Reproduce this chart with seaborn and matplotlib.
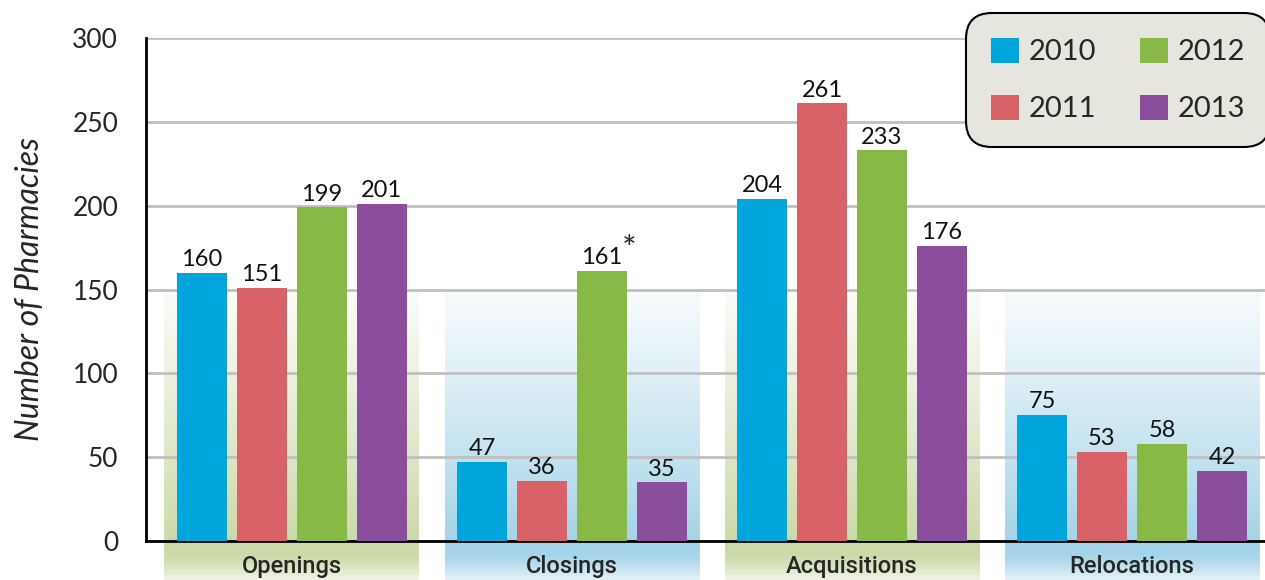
import numpy as np
import pandas as pd
import matplotlib
matplotlib.use("Agg")
import matplotlib.pyplot as plt
import matplotlib.colors as mcolors
import seaborn as sns

sns.set_style("white")
plt.rcParams["font.family"] = ["Lato", "DejaVu Sans"]

# data
categories = ["Openings", "Closings", "Acquisitions", "Relocations"]
years = ["2010", "2011", "2012", "2013"]
v2010 = [160, 47, 204, 75]
v2011 = [151, 36, 261, 53]
v2012 = [199, 161, 233, 58]
v2013 = [201, 35, 176, 42]
year_colors = ["#00a5dc", "#d96168", "#88b846", "#8b4e9c"]
panel_colors = ["#cbdaa9", "#a5d4e8", "#cbdaa9", "#a5d4e8"]

rows = []
for year, vals in zip(years, [v2010, v2011, v2012, v2013]):
    for cat, v in zip(categories, vals):
        rows.append({"category": cat, "year": year, "count": v})
df = pd.DataFrame(rows)

fig = plt.figure(figsize=(12.65, 5.8), dpi=100)
ax = fig.add_axes([146 / 1265, 39 / 580, 1 - 146 / 1265, 503 / 580])


def panel(ax, xc, color):
    # vertical gradient behind each group, running down into the label strip
    top, bottom = 150, -24
    ys = np.linspace(top, bottom, 300)
    c = np.array(mcolors.to_rgb(color))
    white = np.ones(3)
    img = np.zeros((len(ys), 1, 3))
    for i, y in enumerate(ys):
        if y >= 0:
            t = 0.08 + 0.92 * ((150 - y) / 150) ** 1.1
            img[i, 0] = white * (1 - t) + c * t
        else:
            t = (-y) / 24
            t = max(0, (t - 0.35) / 0.65) ** 1.2
            img[i, 0] = c * (1 - t * 0.75) + white * t * 0.75
    ax.imshow(img, extent=(xc - 0.455, xc + 0.455, bottom, top),
              aspect="auto", zorder=0, clip_on=False, interpolation="bilinear")


for i, pc in enumerate(panel_colors):
    panel(ax, i, pc)

sns.barplot(data=df, x="category", y="count", hue="year",
            palette=year_colors, saturation=1, width=0.857, gap=0.167,
            linewidth=0, edgecolor="none", ax=ax, zorder=3)

for cont in ax.containers:
    ax.bar_label(cont, padding=2, fontsize=17, color="#111111")

# asterisk on the 2012 closings figure
bar = ax.containers[2][1]
ax.annotate("*", xy=(bar.get_x() + bar.get_width(), bar.get_height()),
            xytext=(2, 15), textcoords="offset points",
            ha="center", va="center", fontsize=25)

ax.set_xlim(-0.521, 3.475)
ax.set_ylim(0, 300)
ax.set_yticks([0, 50, 100, 150, 200, 250, 300])
ax.yaxis.grid(True, color="#c0c0c0", linewidth=2)
ax.set_axisbelow(True)
ax.tick_params(axis="y", length=0, pad=20, labelsize=19)
ax.tick_params(axis="x", length=0, pad=10, labelsize=17)
for lab in ax.get_xticklabels():
    lab.set_family(["Roboto", "Lato"])
    lab.set_fontweight("medium")
ax.set_xlabel("")
ax.set_ylabel("Number of Pharmacies", fontsize=23, style="italic", labelpad=20)

sns.despine(ax=ax, top=True, right=True)
ax.spines["left"].set_linewidth(2)
ax.spines["bottom"].set_linewidth(2)
ax.spines["left"].set_color("black")
ax.spines["bottom"].set_color("black")

handles, labels = ax.get_legend_handles_labels()
leg = ax.legend(handles, labels, ncol=2, loc="upper left",
                bbox_to_anchor=(966 / 1265, 1 - 13 / 580),
                bbox_transform=fig.transFigure, fontsize=21,
                handlelength=0.95, handleheight=0.95, handletextpad=0.35,
                columnspacing=1.5, labelspacing=1.0, borderpad=0.85,
                borderaxespad=0, frameon=True, fancybox=True, framealpha=1)
frame = leg.get_frame()
frame.set_facecolor("#e6e6de")
frame.set_edgecolor("black")
frame.set_linewidth(1.5)
frame.set_boxstyle("round", pad=0, rounding_size=0.9)

fig.savefig("out.png", dpi=100)
